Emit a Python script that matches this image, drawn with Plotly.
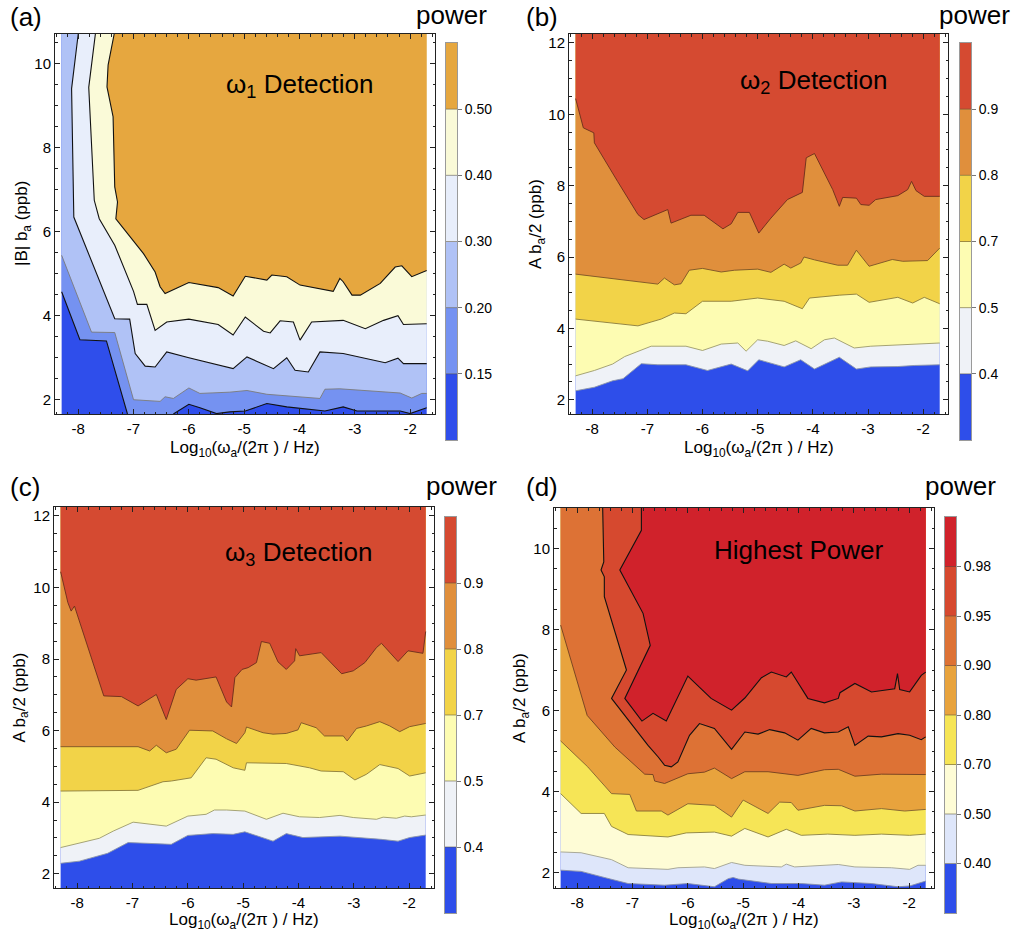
import plotly.graph_objects as go

FIG_W, FIG_H = 1017, 938
FONT = "Liberation Sans, Arial, Helvetica, sans-serif"

# ---------------- shared x axis ----------------
X_TICKS = [-8, -7, -6, -5, -4, -3, -2]
X_TICK_TEXT = ["-8", "-7", "-6", "-5", "-4", "-3", "-2"]
X_DATA = (-8.3, -1.7)
X_LABEL = "Log<sub>10</sub>(ω<sub>a</sub>/(2π ) / Hz)"

# ---------------- panel (a) ----------------
A_TITLE = "ω<sub>1</sub> Detection"
A_YLABEL = "|B| b<sub>a</sub> (ppb)"
A_Y_DATA = (1.65, 10.7)
A_Y_TICKS = [2, 4, 6, 8, 10]
A_LEVELS = ["0.15", "0.20", "0.30", "0.40", "0.50"]
A_COLORS = ["#2f4eeb", "#7592f1", "#b0c2f6", "#e8eefb", "#fafad8", "#e6a73f"]
A_LINE_COLORS = ["#111111", "#7a7a7a", "#111111", "#111111", "#111111"]
A_B015 = [(-8.3, 4.56), (-7.97, 3.42), (-7.49, 3.39), (-7.11, 1.65), (-6.28, 1.65),
          (-6.00, 1.88), (-5.80, 1.80), (-5.50, 1.66), (-5.26, 1.70), (-4.98, 1.72),
          (-4.59, 1.90), (-4.23, 1.82), (-3.54, 1.72), (-3.21, 1.82), (-2.96, 1.72),
          (-2.18, 1.72), (-2.00, 1.66), (-1.7, 1.80)]
A_B020 = [(-8.3, 5.43), (-7.76, 3.60), (-7.34, 3.59), (-7.00, 1.99), (-6.52, 1.95),
          (-6.43, 2.06), (-6.28, 2.02), (-6.00, 2.27), (-5.80, 2.14), (-5.26, 2.17),
          (-4.95, 2.21), (-4.59, 2.12), (-3.63, 2.02), (-3.54, 2.24), (-3.27, 2.25),
          (-2.78, 2.21), (-2.18, 2.15), (-1.97, 2.03), (-1.79, 2.14), (-1.7, 2.14)]
A_B030 = [(-8.00, 10.7), (-8.12, 9.40), (-8.08, 6.34), (-7.34, 3.92), (-7.07, 3.91),
          (-6.97, 3.09), (-6.79, 2.79), (-6.61, 2.77), (-6.40, 3.13), (-6.00, 2.99),
          (-5.20, 2.73), (-4.95, 3.01), (-4.47, 2.73), (-4.23, 2.99), (-4.08, 2.69),
          (-3.84, 2.65), (-3.63, 3.13), (-3.21, 3.09), (-2.45, 2.87), (-2.22, 2.98),
          (-2.12, 2.85), (-1.7, 2.85)]
A_B040 = [(-7.69, 10.7), (-7.81, 9.43), (-7.71, 6.74), (-7.62, 6.30), (-7.34, 5.67),
          (-7.00, 4.57), (-6.93, 4.26), (-6.76, 4.26), (-6.61, 3.64), (-6.40, 3.84),
          (-6.00, 3.91), (-5.47, 3.78), (-5.20, 3.53), (-4.98, 3.96), (-4.65, 3.62),
          (-4.53, 3.58), (-4.35, 3.87), (-4.11, 3.84), (-3.99, 3.41), (-3.78, 3.84),
          (-3.21, 3.88), (-2.81, 3.68), (-2.48, 3.88), (-2.22, 3.99), (-2.12, 3.78),
          (-1.7, 3.80)]
A_B050 = [(-7.35, 10.7), (-7.46, 9.96), (-7.48, 9.44), (-7.37, 8.73), (-7.34, 7.06),
          (-7.29, 6.70), (-7.32, 6.30), (-6.82, 5.47), (-6.61, 5.03), (-6.52, 4.68),
          (-6.43, 4.52), (-6.00, 4.78), (-5.47, 4.66), (-5.20, 4.46), (-4.98, 4.93),
          (-4.59, 4.84), (-4.50, 4.96), (-4.23, 4.92), (-3.99, 4.72), (-3.39, 4.57),
          (-3.27, 4.88), (-3.21, 4.80), (-3.05, 4.48), (-2.90, 4.48), (-2.54, 4.76),
          (-2.27, 5.15), (-2.15, 5.18), (-1.97, 4.92), (-1.7, 5.07)]

# ---------------- panel (b) ----------------
B_TITLE = "ω<sub>2</sub> Detection"
B_YLABEL = "A b<sub>a</sub>/2 (ppb)"
B_Y_DATA = (1.6, 12.25)
B_Y_TICKS = [2, 4, 6, 8, 10, 12]
B_LEVELS = ["0.4", "0.5", "0.7", "0.8", "0.9"]
B_COLORS = ["#2e4eea", "#eff2f7", "#fdfcb2", "#f2d348", "#e08f3c", "#d54a31"]
B_LINE_COLORS = ["#8c96a8", "#9c9a6a", "#8a7a3a", "#7a5426", "#6a2c1c"]
B_B04 = [(-8.3, 2.25), (-7.96, 2.35), (-7.63, 2.53), (-7.44, 2.59), (-7.11, 3.01),
         (-6.81, 2.98), (-6.30, 2.98), (-5.91, 2.82), (-5.48, 3.00), (-5.18, 2.81),
         (-4.98, 3.12), (-4.52, 2.92), (-4.22, 3.12), (-3.97, 2.86), (-3.52, 3.19),
         (-3.21, 2.86), (-2.95, 2.92), (-2.46, 2.93), (-2.16, 2.96), (-1.7, 2.98)]
B_B05 = [(-8.3, 2.67), (-7.96, 2.82), (-7.63, 3.00), (-7.41, 3.21), (-6.93, 3.50),
         (-6.30, 3.50), (-6.00, 3.38), (-5.66, 3.56), (-5.36, 3.59), (-5.21, 3.36),
         (-5.00, 3.68), (-4.82, 3.64), (-4.52, 3.52), (-4.31, 3.65), (-4.03, 3.43),
         (-3.79, 3.68), (-3.61, 3.73), (-3.25, 3.45), (-2.95, 3.50), (-2.46, 3.54),
         (-2.16, 3.56), (-1.7, 3.59)]
B_B07 = [(-8.3, 4.26), (-7.17, 4.07), (-6.75, 4.26), (-6.51, 4.43), (-6.30, 4.41),
         (-6.00, 4.76), (-5.48, 4.76), (-5.00, 4.85), (-4.52, 4.76), (-4.19, 4.55),
         (-4.06, 4.85), (-3.79, 4.90), (-3.52, 4.93), (-3.21, 4.96), (-2.98, 4.73),
         (-2.46, 4.87), (-2.19, 4.71), (-1.98, 4.87), (-1.7, 4.69)]
B_B08 = [(-8.3, 5.52), (-6.81, 5.24), (-6.69, 5.41), (-6.51, 5.22), (-6.39, 5.25),
         (-6.24, 5.63), (-6.00, 5.68), (-5.66, 5.58), (-5.42, 5.63), (-5.00, 5.66),
         (-4.76, 5.57), (-4.52, 5.80), (-4.40, 5.69), (-4.22, 5.83), (-4.16, 6.00),
         (-3.97, 5.92), (-3.55, 5.77), (-3.37, 5.77), (-3.21, 6.19), (-2.98, 5.74),
         (-2.56, 5.93), (-2.37, 5.88), (-1.92, 5.90), (-1.7, 6.25)]
B_B09 = [(-8.3, 10.44), (-8.16, 9.62), (-7.97, 9.48), (-7.96, 9.20), (-7.54, 8.12),
         (-7.17, 7.19), (-7.06, 7.05), (-6.63, 7.33), (-6.57, 6.95), (-6.21, 7.17),
         (-5.97, 7.17), (-5.63, 6.79), (-5.48, 6.93), (-5.36, 7.25), (-5.15, 7.25),
         (-5.09, 7.05), (-4.98, 6.67), (-4.76, 7.09), (-4.46, 7.61), (-4.19, 7.81),
         (-4.12, 8.78), (-3.97, 8.90), (-3.64, 7.89), (-3.52, 7.42), (-3.46, 7.67),
         (-3.21, 7.65), (-3.13, 7.47), (-2.98, 7.45), (-2.86, 7.61), (-2.46, 7.72),
         (-2.28, 7.89), (-2.21, 8.12), (-2.13, 7.86), (-1.98, 7.70), (-1.7, 7.70)]

# ---------------- panel (c) ----------------
C_TITLE = "ω<sub>3</sub> Detection"
C_YLABEL = "A b<sub>a</sub>/2 (ppb)"
C_Y_DATA = (1.6, 12.25)
C_Y_TICKS = [2, 4, 6, 8, 10, 12]
C_LEVELS = ["0.4", "0.5", "0.7", "0.8", "0.9"]
C_COLORS = ["#2e4eea", "#eff2f7", "#fdfcb2", "#f2d348", "#e08f3c", "#d54a31"]
C_LINE_COLORS = ["#8c96a8", "#9c9a6a", "#8a7a3a", "#7a5426", "#6a2c1c"]
C_B04 = [(-8.3, 2.29), (-7.96, 2.35), (-7.45, 2.57), (-7.08, 2.87), (-6.75, 2.85),
         (-6.30, 2.82), (-6.00, 3.07), (-5.55, 3.12), (-5.18, 3.10), (-4.97, 3.17),
         (-4.46, 2.91), (-4.22, 3.12), (-3.92, 3.01), (-3.25, 3.05), (-2.50, 2.96),
         (-2.20, 2.91), (-1.99, 3.01), (-1.7, 3.08)]
C_B05 = [(-8.3, 2.73), (-7.96, 2.85), (-7.60, 2.99), (-7.35, 3.19), (-6.99, 3.44),
         (-6.39, 3.33), (-6.00, 3.61), (-5.67, 3.66), (-5.52, 3.78), (-5.30, 3.78),
         (-4.97, 3.75), (-4.58, 3.52), (-4.28, 3.69), (-3.98, 3.59), (-3.62, 3.57),
         (-3.25, 3.63), (-3.01, 3.57), (-2.59, 3.52), (-2.47, 3.58), (-2.23, 3.55),
         (-2.08, 3.61), (-1.96, 3.59), (-1.7, 3.64)]
C_B07 = [(-8.3, 4.31), (-6.90, 4.33), (-6.45, 4.57), (-6.30, 4.59), (-5.94, 4.68),
         (-5.67, 5.24), (-5.49, 5.20), (-5.18, 4.96), (-4.97, 4.89), (-4.94, 5.10),
         (-4.22, 5.08), (-3.80, 4.96), (-3.59, 4.87), (-3.19, 4.85), (-2.98, 4.62),
         (-2.77, 4.78), (-2.53, 5.05), (-2.20, 4.94), (-1.99, 4.73), (-1.7, 4.82)]
C_B08 = [(-8.3, 5.55), (-6.90, 5.55), (-6.69, 5.43), (-6.57, 5.59), (-6.39, 5.38),
         (-6.21, 5.48), (-5.97, 6.01), (-5.55, 5.99), (-5.30, 5.77), (-5.12, 5.64),
         (-4.97, 5.94), (-4.94, 6.10), (-4.64, 5.94), (-4.46, 5.90), (-4.22, 5.92),
         (-4.01, 6.02), (-3.95, 6.22), (-3.68, 6.08), (-3.53, 5.85), (-3.19, 5.85),
         (-3.12, 5.71), (-2.95, 6.06), (-2.77, 6.13), (-2.53, 6.25), (-2.35, 6.13),
         (-2.17, 5.97), (-1.99, 6.11), (-1.7, 6.20)]
C_B09 = [(-8.3, 10.44), (-8.17, 9.58), (-8.11, 9.34), (-8.05, 9.48), (-7.52, 6.97),
         (-7.20, 6.95), (-6.90, 6.69), (-6.57, 7.01), (-6.39, 6.31), (-6.21, 7.15),
         (-6.00, 7.45), (-5.85, 7.41), (-5.49, 7.50), (-5.30, 6.80), (-5.21, 6.66),
         (-5.15, 7.48), (-5.02, 7.71), (-4.91, 7.76), (-4.76, 7.90), (-4.67, 8.49),
         (-4.52, 8.44), (-4.37, 7.92), (-4.22, 7.71), (-4.07, 7.95), (-4.05, 8.29),
         (-3.98, 8.09), (-3.59, 8.18), (-3.22, 7.59), (-3.01, 7.67), (-2.80, 7.90),
         (-2.59, 8.32), (-2.50, 8.44), (-2.20, 7.93), (-2.02, 8.23), (-1.75, 8.16),
         (-1.7, 8.77)]

# ---------------- panel (d) ----------------
D_TITLE = "Highest Power"
D_YLABEL = "A b<sub>a</sub>/2 (ppb)"
D_Y_DATA = (1.62, 11.0)
D_Y_TICKS = [2, 4, 6, 8, 10]
D_LEVELS = ["0.40", "0.50", "0.70", "0.80", "0.90", "0.95", "0.98"]
D_COLORS = ["#2e4eea", "#dee6fa", "#fefcd6", "#f6e556", "#e8a33d", "#dd7235",
            "#d6492f", "#d0222b"]
D_LINE_COLORS = ["#8890a8", "#a0a090", "#8a8040", "#806030", "#704020", "#111111", "#111111"]
D_B040 = [(-8.3, 2.06), (-7.93, 2.03), (-7.51, 1.88), (-7.08, 1.73), (-6.42, 1.69),
          (-6.00, 1.73), (-5.52, 1.65), (-5.27, 1.85), (-5.18, 1.88), (-5.09, 1.84),
          (-4.49, 1.73), (-3.95, 1.73), (-3.53, 1.69), (-3.22, 1.77), (-2.68, 1.73),
          (-2.20, 1.65), (-1.99, 1.67), (-1.7, 1.79)]
D_B050 = [(-8.3, 2.51), (-7.93, 2.49), (-7.38, 2.32), (-7.08, 2.12), (-6.36, 2.08),
          (-6.18, 2.12), (-5.70, 2.14), (-5.52, 2.10), (-5.21, 2.25), (-4.97, 2.18),
          (-4.31, 2.14), (-4.22, 2.21), (-4.07, 2.14), (-3.28, 2.20), (-2.98, 2.14),
          (-2.32, 2.12), (-1.99, 2.08), (-1.84, 2.18), (-1.7, 2.18)]
D_B070 = [(-8.3, 3.95), (-7.93, 3.46), (-7.51, 3.46), (-7.38, 3.14), (-7.08, 2.94),
          (-6.36, 2.88), (-6.03, 2.98), (-5.52, 3.00), (-5.21, 2.90), (-4.97, 3.09),
          (-4.55, 2.88), (-4.22, 3.07), (-3.95, 2.92), (-3.47, 2.95), (-2.98, 2.92),
          (-2.50, 2.95), (-1.99, 2.92), (-1.7, 2.95)]
D_B080 = [(-8.3, 5.25), (-7.81, 4.61), (-7.38, 3.95), (-7.05, 3.93), (-6.93, 3.52),
          (-6.48, 3.52), (-6.36, 3.42), (-6.00, 3.70), (-5.52, 3.66), (-5.21, 3.37),
          (-5.00, 3.79), (-4.55, 3.46), (-4.34, 3.74), (-4.13, 3.73), (-4.01, 3.54),
          (-3.53, 3.66), (-3.22, 3.65), (-2.98, 3.52), (-2.50, 3.58), (-2.08, 3.52),
          (-1.7, 3.56)]
D_B090 = [(-8.3, 8.11), (-7.82, 5.88), (-7.32, 5.10), (-6.78, 4.43), (-6.63, 4.42),
          (-6.60, 4.26), (-6.42, 4.20), (-6.00, 4.44), (-5.70, 4.48), (-5.52, 4.58),
          (-5.21, 4.32), (-4.97, 4.49), (-4.55, 4.49), (-4.01, 4.40), (-3.53, 4.54),
          (-3.28, 4.55), (-2.98, 4.38), (-2.50, 4.43), (-1.7, 4.42)]
D_B095 = [(-7.54, 11.0), (-7.52, 9.67), (-7.57, 9.47), (-7.51, 9.30), (-7.51, 8.81),
          (-7.11, 7.00), (-7.38, 6.30), (-6.72, 5.14), (-6.54, 4.86), (-6.42, 4.65),
          (-6.30, 4.61), (-6.18, 4.73), (-5.97, 5.39), (-5.79, 5.68), (-5.52, 5.56),
          (-5.21, 5.04), (-4.97, 5.47), (-4.73, 5.42), (-4.52, 5.53), (-4.25, 5.45),
          (-4.01, 5.27), (-3.77, 5.56), (-3.53, 5.45), (-3.28, 5.47), (-3.10, 5.60),
          (-2.98, 5.14), (-2.74, 5.37), (-2.50, 5.35), (-2.20, 5.43), (-1.99, 5.39),
          (-1.78, 5.28), (-1.7, 5.35)]
D_B098 = [(-6.84, 11.0), (-6.84, 10.45), (-7.23, 9.47), (-6.81, 8.40), (-6.68, 7.61),
          (-7.14, 6.30), (-6.83, 5.74), (-6.63, 5.93), (-6.39, 5.74), (-6.00, 6.85),
          (-5.58, 6.30), (-5.21, 6.01), (-4.97, 6.31), (-4.67, 6.81), (-4.49, 6.95),
          (-4.22, 6.83), (-4.13, 6.95), (-3.83, 6.30), (-3.53, 6.19), (-3.28, 6.30),
          (-3.25, 6.44), (-2.98, 6.67), (-2.68, 6.46), (-2.26, 6.54), (-2.21, 6.91),
          (-2.17, 6.52), (-1.99, 6.46), (-1.78, 6.87), (-1.7, 6.95)]

# ---------------- layout geometry (pixels) ----------------
X_VIEW = (-8.42, -1.55)
PANELS = [
    dict(tag="(a)", title=A_TITLE, ylabel=A_YLABEL, ydata=A_Y_DATA, yticks=A_Y_TICKS,
         levels=A_LEVELS, colors=A_COLORS, lines=A_LINE_COLORS,
         bounds=[A_B015, A_B020, A_B030, A_B040, A_B050],
         frame=(55, 435, 34, 414), cbar=(446, 457, 43, 440),
         title_px=(224, 86), tag_px=(8, 17), power_px=(489, 15), xlab_y=449, ylab_x=23),
    dict(tag="(b)", title=B_TITLE, ylabel=B_YLABEL, ydata=B_Y_DATA, yticks=B_Y_TICKS,
         levels=B_LEVELS, colors=B_COLORS, lines=B_LINE_COLORS,
         bounds=[B_B04, B_B05, B_B07, B_B08, B_B09],
         frame=(569, 948, 34, 414), cbar=(960, 971, 43, 440),
         title_px=(738, 81), tag_px=(524, 17), power_px=(1012, 15), xlab_y=449, ylab_x=537),
    dict(tag="(c)", title=C_TITLE, ylabel=C_YLABEL, ydata=C_Y_DATA, yticks=C_Y_TICKS,
         levels=C_LEVELS, colors=C_COLORS, lines=C_LINE_COLORS,
         bounds=[C_B04, C_B05, C_B07, C_B08, C_B09],
         frame=(54, 434, 507, 888), cbar=(445, 456, 517, 913),
         title_px=(223, 553), tag_px=(8, 487), power_px=(499, 486), xlab_y=921, ylab_x=20),
    dict(tag="(d)", title=D_TITLE, ylabel=D_YLABEL, ydata=D_Y_DATA, yticks=D_Y_TICKS,
         levels=D_LEVELS, colors=D_COLORS, lines=D_LINE_COLORS,
         bounds=[D_B040, D_B050, D_B070, D_B080, D_B090, D_B095, D_B098],
         frame=(554, 934, 508, 888), cbar=(945, 956, 517, 913),
         title_px=(712, 550), tag_px=(524, 487), power_px=(998, 486), xlab_y=921, ylab_x=521),
]


def px_x(p):
    return p / FIG_W


def px_y(p):
    return 1 - p / FIG_H


def closing_corners(start, end, x0, x1, y0, y1):
    """Corners met walking the data rectangle counter-clockwise from end back to start."""
    W, H = x1 - x0, y1 - y0
    P = 2 * (W + H)

    def pos(p):
        x, y = p
        d = {"b": abs(y - y0), "r": abs(x - x1), "t": abs(y - y1), "l": abs(x - x0)}
        e = min(d, key=d.get)
        if e == "b":
            return x - x0
        if e == "r":
            return W + (y - y0)
        if e == "t":
            return W + H + (x1 - x)
        return 2 * W + H + (y1 - y)

    te, ts = pos(end), pos(start)
    span = (ts - te) % P
    corners = [(0.0, (x0, y0)), (W, (x1, y0)), (W + H, (x1, y1)), (2 * W + H, (x0, y1))]
    out = []
    for c, pt in corners:
        d = (c - te) % P
        if 0 < d < span:
            out.append((d, pt))
    out.sort()
    return [pt for _, pt in out]


def edges_of(p, x0, x1, y0, y1, tol=1e-6):
    s = set()
    if abs(p[0] - x0) < tol:
        s.add("l")
    if abs(p[0] - x1) < tol:
        s.add("r")
    if abs(p[1] - y0) < tol:
        s.add("b")
    if abs(p[1] - y1) < tol:
        s.add("t")
    return s


def line_xy(b, rect):
    xs, ys = [], []
    for i, p in enumerate(b):
        if i > 0 and (edges_of(b[i - 1], *rect) & edges_of(p, *rect)):
            xs.append(None)
            ys.append(None)
        xs.append(p[0])
        ys.append(p[1])
    return xs, ys


fig = go.Figure()
layout = dict(width=FIG_W, height=FIG_H, margin=dict(l=0, r=0, t=0, b=0),
              paper_bgcolor="white", plot_bgcolor="white", showlegend=False,
              font=dict(family=FONT, color="black"))
annotations = []
shapes = []

for i, P in enumerate(PANELS):
    n = i + 1
    cb = i + 5
    xr = "x" if n == 1 else f"x{n}"
    yr = "y" if n == 1 else f"y{n}"
    x0, x1 = X_DATA
    y0, y1 = P["ydata"]
    rect = (x0, x1, y0, y1)

    # lowest band fills the data rectangle
    fig.add_trace(go.Scatter(x=[x0, x1, x1, x0], y=[y0, y0, y1, y1], fill="toself",
                             fillcolor=P["colors"][0], line=dict(width=0), mode="lines",
                             hoverinfo="skip", xaxis=xr, yaxis=yr))
    # successive bands: region on the high side of each contour boundary
    for k, b in enumerate(P["bounds"]):
        poly = list(b) + closing_corners(b[0], b[-1], *rect)
        fig.add_trace(go.Scatter(x=[p[0] for p in poly], y=[p[1] for p in poly],
                                 fill="toself", fillcolor=P["colors"][k + 1],
                                 line=dict(width=0), mode="lines", hoverinfo="skip",
                                 xaxis=xr, yaxis=yr))
    # contour lines
    for k, b in enumerate(P["bounds"]):
        lx, ly = line_xy(b, rect)
        dark = P["lines"][k] == "#111111"
        fig.add_trace(go.Scatter(x=lx, y=ly, mode="lines",
                                 line=dict(color=P["lines"][k], width=1.1 if dark else 0.9),
                                 hoverinfo="skip", connectgaps=False, xaxis=xr, yaxis=yr))

    l, r, t, btm = P["frame"]
    axis_common = dict(showgrid=False, zeroline=False, showline=True, linecolor="#222",
                       linewidth=1, mirror="ticks", ticks="inside", ticklen=5,
                       tickwidth=1, tickcolor="#222",
                       tickfont=dict(size=15, family=FONT, color="black"))
    layout["xaxis" if n == 1 else f"xaxis{n}"] = dict(
        domain=[px_x(l), px_x(r)], range=list(X_VIEW), anchor=yr,
        tickmode="array", tickvals=X_TICKS, ticktext=X_TICK_TEXT, ticklabelstandoff=1,
        minor=dict(ticks="inside", ticklen=2.5, tickmode="linear", tick0=0, dtick=0.2,
                   tickcolor="#222"),
        **axis_common)
    layout["yaxis" if n == 1 else f"yaxis{n}"] = dict(
        domain=[px_y(btm), px_y(t)], range=[y0, y1], anchor=xr,
        tickmode="array", tickvals=P["yticks"], ticktext=[str(v) for v in P["yticks"]],
        minor=dict(ticks="inside", ticklen=2.5, tickmode="linear", tick0=0, dtick=0.5,
                   tickcolor="#222"),
        **axis_common)

    # colour bar as a stacked heat strip
    nb = len(P["colors"])
    cl, cr, ct, cbm = P["cbar"]
    fig.add_trace(go.Heatmap(z=[[j] for j in range(nb)], x=[0], y=list(range(nb)),
                             colorscale=[[j / (nb - 1), c] for j, c in enumerate(P["colors"])],
                             zmin=0, zmax=nb - 1, showscale=False, hoverinfo="skip",
                             xaxis=f"x{cb}", yaxis=f"y{cb}"))
    layout[f"xaxis{cb}"] = dict(domain=[px_x(cl), px_x(cr)], range=[-0.5, 0.5],
                                anchor=f"y{cb}", showticklabels=False, ticks="",
                                showgrid=False, zeroline=False, showline=True,
                                linecolor="#9a9a9a", linewidth=1, mirror=True)
    layout[f"yaxis{cb}"] = dict(domain=[px_y(cbm), px_y(ct)], range=[-0.5, nb - 0.5],
                                anchor=f"x{cb}", side="right", tickmode="array",
                                tickvals=[j + 0.5 for j in range(nb - 1)],
                                ticktext=P["levels"], ticks="outside", ticklen=4,
                                tickcolor="#777", showgrid=False, zeroline=False,
                                showline=True, linecolor="#9a9a9a", linewidth=1, mirror=True,
                                tickfont=dict(size=14, family=FONT, color="black"))
    for j in range(nb - 1):
        shapes.append(dict(type="line", xref=f"x{cb}", yref=f"y{cb}", x0=-0.5, x1=0.5,
                           y0=j + 0.5, y1=j + 0.5,
                           line=dict(color="rgba(90,80,60,0.55)", width=1)))

    # texts
    tx, ty = P["title_px"]
    annotations.append(dict(text=P["title"], x=px_x(tx), y=px_y(ty), xref="paper",
                            yref="paper", xanchor="left", yanchor="middle", showarrow=False,
                            font=dict(size=26, family=FONT, color="black")))
    gx, gy = P["tag_px"]
    annotations.append(dict(text=P["tag"], x=px_x(gx), y=px_y(gy), xref="paper",
                            yref="paper", xanchor="left", yanchor="middle", showarrow=False,
                            font=dict(size=26, family=FONT, color="black")))
    wx, wy = P["power_px"]
    annotations.append(dict(text="power", x=px_x(wx), y=px_y(wy), xref="paper",
                            yref="paper", xanchor="right", yanchor="middle", showarrow=False,
                            font=dict(size=26, family=FONT, color="black")))
    annotations.append(dict(text=X_LABEL, x=px_x((l + r) / 2), y=px_y(P["xlab_y"]),
                            xref="paper", yref="paper", xanchor="center", yanchor="middle",
                            showarrow=False, font=dict(size=17, family=FONT, color="black")))
    annotations.append(dict(text=P["ylabel"], x=px_x(P["ylab_x"]), y=px_y((t + btm) / 2),
                            xref="paper", yref="paper", xanchor="center", yanchor="middle",
                            textangle=-90, showarrow=False,
                            font=dict(size=17, family=FONT, color="black")))

layout["annotations"] = annotations
layout["shapes"] = shapes
fig.update_layout(**layout)
fig.write_html("out.html", config={"displayModeBar": False},
               post_script="document.body.style.margin='0px';"
                           "document.body.style.overflow='hidden';")
